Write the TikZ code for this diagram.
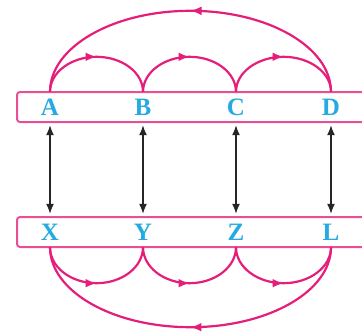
\documentclass[tikz,border=0pt]{standalone}
\usepackage{fontspec}
\setmainfont{Liberation Serif}
\usetikzlibrary{arrows.meta,decorations.markings}
\definecolor{arcpink}{RGB}{228,30,122}
\definecolor{barpink}{RGB}{232,80,150}
\definecolor{letterblue}{RGB}{38,170,225}

\begin{document}
\begin{tikzpicture}[
  x=1pt, y=1pt,
  bar/.style={draw=barpink, line width=2pt, rounded corners=3pt},
  letter/.style={text=letterblue, font=\fontsize{25}{28}\selectfont\bfseries,
                 minimum height=30pt, inner sep=0pt},
  pair/.style={{Latex[length=10pt,width=8pt]}-{Latex[length=10pt,width=8pt]},
               line width=1.4pt, draw=black!85, shorten <=3pt, shorten >=3pt},
  hop/.style={color=arcpink, line width=2.2pt, postaction={decorate},
              decoration={markings, mark=at position 0.5 with {\arrow{Latex[length=11pt,width=9pt]}}}}
]
  \useasboundingbox (0,0) rectangle (362,333);

  % the two strips
  \draw[bar] (17,211) rectangle (380,241);
  \draw[bar] (17,86) rectangle (380,116);

  \foreach \n/\x in {A/50, B/143, C/236, D/331}
    \node[letter] (\n) at (\x,226) {\n};
  \foreach \n/\x in {X/50, Y/143, Z/236, L/331}
    \node[letter] (\n) at (\x,101) {\n};

  \draw[pair] (A.south) -- (X.north);
  \draw[pair] (B.south) -- (Y.north);
  \draw[pair] (C.south) -- (Z.north);
  \draw[pair] (D.south) -- (L.north);

  % arcs above
  \draw[hop] (A.north) arc[start angle=180, end angle=0, x radius=46.5, y radius=35];
  \draw[hop] (B.north) arc[start angle=180, end angle=0, x radius=46.5, y radius=35];
  \draw[hop] (C.north) arc[start angle=180, end angle=0, x radius=47.5, y radius=35];
  \draw[hop] (D.north) arc[start angle=0, end angle=180, x radius=140.5, y radius=81];

  % arcs below
  \draw[hop] (X.south) arc[start angle=180, end angle=360, x radius=46.5, y radius=36];
  \draw[hop] (Y.south) arc[start angle=180, end angle=360, x radius=46.5, y radius=36];
  \draw[hop] (Z.south) arc[start angle=180, end angle=360, x radius=47.5, y radius=36];
  \draw[hop] (L.south) arc[start angle=360, end angle=180, x radius=140.5, y radius=80];
\end{tikzpicture}
\end{document}
